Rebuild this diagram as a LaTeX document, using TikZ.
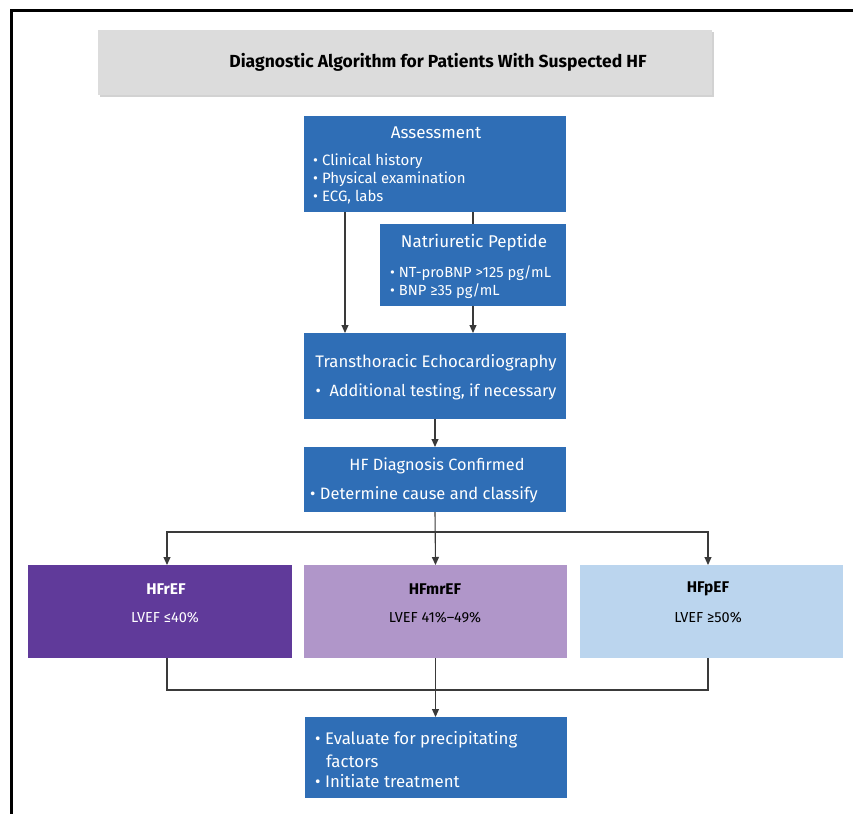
\documentclass[tikz,border=0pt]{standalone}
\usepackage{fontspec}
\setmainfont{Fira Sans}
\usetikzlibrary{arrows.meta,shadows}
\definecolor{boxblue}{HTML}{2F6EB6}
\definecolor{titlegray}{HTML}{DCDCDC}
\definecolor{purpledark}{HTML}{603A9A}
\definecolor{purplemid}{HTML}{B096C9}
\definecolor{bluelight}{HTML}{BBD5EE}
\definecolor{linegray}{HTML}{3A3A3A}
\tikzset{
  bluebox/.style={fill=boxblue, inner sep=0pt, outer sep=0pt},
  classbox/.style={inner sep=0pt, outer sep=0pt, minimum width=264pt, minimum height=93pt},
  head/.style={text=white, font=\fontsize{17}{19}\selectfont, inner sep=0pt},
  bul/.style={text=white, font=\fontsize{15}{17}\selectfont, inner sep=0pt, anchor=west},
  conn/.style={draw=linegray, line width=1.1pt},
  arr/.style={conn, -{Triangle[length=8pt,width=7pt]}},
}
\begin{document}
\begin{tikzpicture}[x=1pt,y=-1pt]
\useasboundingbox (0,0) rectangle (853,813);
\fill[white] (0,0) rectangle (853,813);
% frame
\draw[line width=3pt, line cap=rect] (11,813) -- (11,11) -- (853,11);
% title
\node[fill=titlegray, drop shadow={shadow xshift=2pt, shadow yshift=-2pt, opacity=0.35, fill=gray},
  minimum width=614pt, minimum height=65pt, inner sep=0pt] (title) at (405,62.5) {};
\node[font=\bfseries\fontsize{17.5}{20}\selectfont, inner sep=0pt] (titletext) at (438,62.5)
  {Diagnostic Algorithm for Patients With Suspected HF};
% assessment
\node[bluebox, minimum width=262pt, minimum height=96pt] (assess) at (435,164) {};
\node[head] (assessh) at (436,133) {Assessment};
\node[bul] (a1) at (313,161) {• Clinical history};
\node[bul] (a2) at (313,179) {• Physical examination};
\node[bul] (a3) at (313,197) {• ECG, labs};
% natriuretic
\node[bluebox, minimum width=186pt, minimum height=82pt] (nat) at (473,265) {};
\node[head] (nath) at (474,243) {Natriuretic Peptide};
\node[bul, font=\fontsize{14.7}{16}\selectfont] (n1) at (390,273) {• NT-proBNP >125 pg/mL};
\node[bul, font=\fontsize{14.7}{16}\selectfont] (n2) at (390,291) {• BNP ≥35 pg/mL};
% echo
\node[bluebox, minimum width=262pt, minimum height=86pt] (echo) at (435,376) {};
\node[head, font=\fontsize{16.7}{18}\selectfont] (echoh) at (436,363) {Transthoracic Echocardiography};
\node[head, font=\fontsize{16.3}{18}\selectfont] (echob) at (436,392) {• \ Additional testing, if necessary};
% diagnosis
\node[bluebox, minimum width=262pt, minimum height=65pt] (dx) at (435,479.5) {};
\node[head, font=\fontsize{16.3}{18}\selectfont] (dxh) at (437,466) {HF Diagnosis Confirmed};
\node[bul, font=\fontsize{16.5}{18}\selectfont] (dxb) at (310,495) {• Determine cause and classify};
% classes
\node[classbox, fill=purpledark] (red) at (160,611.5) {};
\node[classbox, fill=purplemid, minimum width=263pt] (mr) at (435.5,611.5) {};
\node[classbox, fill=bluelight, minimum width=263pt] (pe) at (711.5,611.5) {};
\node[text=white, font=\bfseries\fontsize{15.5}{17}\selectfont, inner sep=0pt] (redh) at (166,589) {HFrEF};
\node[text=white, font=\fontsize{14.5}{16}\selectfont, inner sep=0pt] (redv) at (165,618) {LVEF ≤40\%};
\node[text=black, font=\bfseries\fontsize{15.5}{17}\selectfont, inner sep=0pt] (mrh) at (435,589) {HFmrEF};
\node[text=black, font=\fontsize{14.5}{16}\selectfont, inner sep=0pt] (mrv) at (435,618) {LVEF 41\%–49\%};
\node[text=black, font=\bfseries\fontsize{15.5}{17}\selectfont, inner sep=0pt] (peh) at (708,589) {HFpEF};
\node[text=black, font=\fontsize{14.5}{16}\selectfont, inner sep=0pt] (pev) at (708,618) {LVEF ≥50\%};
% final
\node[bluebox, minimum width=262pt, minimum height=81pt] (fin) at (436,757.5) {};
\node[bul, font=\fontsize{16.8}{18}\selectfont] (f1) at (315,740) {• Evaluate for precipitating};
\node[bul, font=\fontsize{16.8}{18}\selectfont] (f2) at (326,761) {factors};
\node[bul, font=\fontsize{16.8}{18}\selectfont] (f3) at (315,781) {• Initiate treatment};
% connectors
\coordinate (lx) at (345,0);
\coordinate (xr) at (167,0);
\coordinate (xp) at (708,0);
\coordinate (split) at (435,532);
\coordinate (join) at (435,690);
\draw[arr] (assess.south -| lx) -- (echo.north -| lx);
\draw[conn] (assess.south -| nat.north) -- (nat.north);
\draw[arr] (nat.south) -- (echo.north -| nat.south);
\draw[arr] (echo.south) -- (dx.north);
\draw[arr] (dx.south) -- (mr.north);
\draw[arr] (split) -| (red.north -| xr);
\draw[arr] (split) -| (pe.north -| xp);
\draw[conn] (red.south -| xr) |- (join) -| (pe.south -| xp);
\draw[arr] (mr.south) -- (fin.north -| mr.south);
\end{tikzpicture}
\end{document}
